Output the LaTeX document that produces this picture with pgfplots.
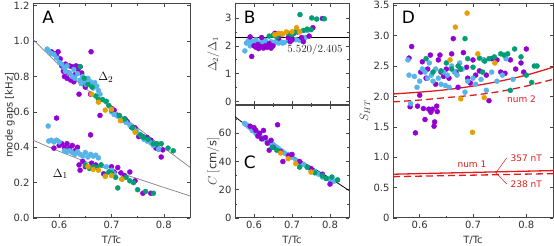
\documentclass[border=0pt]{standalone}
\usepackage{pgfplots}
\pgfplotsset{compat=1.18}
\usepackage{fontspec}
\setmainfont{DejaVu Sans}
\definecolor{cpur}{RGB}{148,0,211}
\definecolor{cblu}{RGB}{86,180,233}
\definecolor{cgrn}{RGB}{0,158,115}
\definecolor{corg}{RGB}{230,159,0}
\definecolor{cred}{RGB}{222,28,28}
\definecolor{axgray}{RGB}{70,70,70}
\definecolor{txgray}{RGB}{50,50,50}
\tikzset{letter/.style={font=\fontsize{17}{18}\selectfont, text=black}}
\pgfplotsset{
  base/.style={
    scale only axis,
    xmin=0.55, xmax=0.85,
    xtick={0.6,0.7,0.8},
    xticklabels={0.6,0.7,0.8},
    minor xtick={0.65,0.75},
    tick align=inside,
    major tick length=3.5pt,
    minor tick length=2pt,
    axis line style={axgray, line width=1pt},
    every tick/.style={axgray, line width=0.6pt},
    every minor tick/.style={axgray, line width=0.6pt},
    tick label style={font=\fontsize{10}{12}\selectfont, text=txgray},
    label style={font=\fontsize{10}{12}\selectfont, text=txgray},
    /pgf/number format/assume math mode=true,
  },
  mathlabel/.style={ylabel style={font=\fontsize{11.5}{13}\selectfont}},
  pts/.style={only marks, mark=*, mark size=2.5pt, color=#1, mark options={draw=none, fill=#1}},
}
\begin{document}
\begin{tikzpicture}
%%%%%%%%%%%%%%%%%%%%%%%% A
\begin{axis}[base, at={(33pt,28pt)}, anchor=south west, width=157pt, height=214pt,
  ymin=0, ymax=1.21, ytick={0,0.2,0.4,0.6,0.8,1.0,1.2},
  yticklabels={0.0,0.2,0.4,0.6,0.8,1.0,1.2},
  xlabel={T/Tc}, ylabel={mode gaps [kHz]},
  ylabel style={at={(axis description cs:-0.148,0.48)}, anchor=center}]
% gray model curves
\addplot[gray, line width=0.7pt, smooth] coordinates {(0.55,1.01)(0.60,0.865)(0.65,0.734)(0.70,0.62)(0.75,0.51)(0.80,0.397)(0.85,0.287)};
\addplot[gray, line width=0.7pt, smooth] coordinates {(0.55,0.44)(0.60,0.377)(0.65,0.32)(0.70,0.27)(0.75,0.222)(0.80,0.173)(0.85,0.125)};
% Delta2 purple
\addplot[pts=cpur] coordinates {
(0.585,0.94)(0.590,0.93)(0.595,0.915)(0.598,0.94)(0.602,0.90)(0.605,0.86)(0.608,0.83)(0.610,0.80)(0.612,0.87)(0.615,0.79)
(0.618,0.82)(0.620,0.86)(0.622,0.78)(0.625,0.855)(0.628,0.77)(0.630,0.81)(0.632,0.86)(0.635,0.855)(0.636,0.84)(0.638,0.70)
(0.640,0.855)(0.643,0.82)(0.647,0.76)(0.650,0.74)(0.661,0.94)(0.660,0.70)(0.678,0.58)(0.700,0.62)(0.705,0.61)(0.712,0.58)
(0.720,0.555)(0.726,0.56)(0.730,0.545)(0.738,0.515)(0.745,0.51)(0.752,0.46)(0.760,0.46)(0.768,0.455)(0.775,0.44)(0.785,0.395)
(0.790,0.39)(0.795,0.345)(0.798,0.385)};
% Delta1 purple
\addplot[pts=cpur] coordinates {
(0.590,0.395)(0.595,0.565)(0.600,0.41)(0.605,0.42)(0.610,0.40)(0.615,0.42)(0.620,0.395)(0.625,0.41)(0.630,0.38)(0.635,0.40)
(0.638,0.30)(0.640,0.27)(0.645,0.32)(0.650,0.29)(0.660,0.47)(0.662,0.31)(0.670,0.30)(0.685,0.25)(0.700,0.29)(0.705,0.26)
(0.712,0.285)(0.718,0.255)(0.725,0.24)(0.735,0.26)(0.745,0.21)(0.760,0.14)(0.775,0.14)};
% Delta2 blue
\addplot[pts=cblu] coordinates {
(0.577,0.955)(0.580,0.945)(0.585,0.93)(0.590,0.925)(0.595,0.905)(0.600,0.88)(0.605,0.87)(0.610,0.85)(0.612,0.83)(0.615,0.86)
(0.620,0.82)(0.625,0.80)(0.628,0.84)(0.630,0.79)(0.635,0.815)(0.640,0.78)(0.642,0.76)(0.645,0.80)(0.650,0.775)(0.652,0.755)
(0.655,0.79)(0.660,0.77)(0.662,0.745)(0.665,0.735)(0.668,0.765)(0.672,0.745)(0.675,0.72)(0.678,0.70)(0.700,0.60)(0.705,0.585)
(0.712,0.575)(0.718,0.56)(0.722,0.55)(0.728,0.54)(0.735,0.525)(0.742,0.505)(0.748,0.49)(0.755,0.47)(0.762,0.445)(0.768,0.435)
(0.775,0.425)(0.780,0.41)(0.790,0.39)};
% Delta1 blue
\addplot[pts=cblu] coordinates {
(0.579,0.52)(0.580,0.435)(0.585,0.44)(0.590,0.43)(0.595,0.44)(0.600,0.43)(0.610,0.38)(0.615,0.375)(0.620,0.38)(0.625,0.37)
(0.630,0.36)(0.635,0.375)(0.640,0.36)(0.645,0.35)(0.650,0.37)(0.655,0.345)(0.660,0.36)(0.665,0.35)(0.670,0.355)(0.675,0.34)
(0.680,0.30)(0.690,0.29)(0.700,0.27)(0.705,0.25)};
% green
\addplot[pts=cgrn] coordinates {
(0.640,0.855)(0.648,0.79)(0.655,0.755)(0.663,0.74)(0.670,0.69)(0.675,0.67)(0.683,0.67)(0.690,0.66)(0.695,0.635)(0.700,0.61)
(0.715,0.58)(0.725,0.56)(0.740,0.51)(0.755,0.47)(0.762,0.455)(0.770,0.445)(0.780,0.42)(0.787,0.42)(0.795,0.42)(0.808,0.395)(0.818,0.38)};
\addplot[pts=cgrn] coordinates {
(0.650,0.30)(0.658,0.28)(0.665,0.29)(0.672,0.285)(0.680,0.30)(0.688,0.24)(0.695,0.26)(0.700,0.255)(0.708,0.23)(0.712,0.17)
(0.720,0.22)(0.728,0.23)(0.735,0.21)(0.742,0.20)(0.750,0.16)(0.765,0.15)(0.780,0.14)};
% orange
\addplot[pts=corg] coordinates {(0.662,0.70)(0.675,0.655)(0.688,0.61)(0.700,0.615)(0.717,0.55)(0.745,0.485)};
\addplot[pts=corg] coordinates {(0.655,0.29)(0.665,0.275)(0.675,0.27)(0.688,0.235)(0.700,0.24)(0.720,0.22)};
\node[letter] at (rel axis cs:0.097,0.938) {A};
\node[font=\fontsize{12.5}{14}\selectfont] at (axis cs:0.689,0.796) {$\Delta_2$};
\node[font=\fontsize{12.5}{14}\selectfont] at (axis cs:0.602,0.249) {$\Delta_1$};
\end{axis}
%%%%%%%%%%%%%%%%%%%%%%%% B
\begin{axis}[base, mathlabel, at={(235pt,141pt)}, anchor=south west, width=114pt, height=101pt,
  ymin=-0.12, ymax=3.5, ytick={0,1,2,3}, yticklabels={0,1,2,3}, minor ytick={0.5,1.5,2.5},
  xticklabels={}, ylabel={$\Delta_2/\Delta_1$},
  ylabel style={at={(axis description cs:-0.19,0.5)}, anchor=center}]
\addplot[pts=cblu] coordinates {
(0.576,1.82)(0.580,2.10)(0.585,2.18)(0.590,2.00)(0.595,2.15)(0.600,2.05)(0.605,2.22)(0.610,2.10)(0.615,2.05)(0.620,2.15)
(0.625,2.08)(0.630,2.20)(0.635,2.10)(0.640,2.05)(0.645,2.15)(0.650,2.08)(0.655,2.12)(0.660,2.18)(0.665,2.10)(0.670,2.15)
(0.675,2.10)(0.680,2.12)(0.690,2.20)(0.700,2.20)(0.710,2.22)(0.720,2.20)(0.735,2.30)(0.740,2.55)};
\addplot[pts=cpur] coordinates {
(0.590,2.32)(0.594,1.62)(0.600,2.00)(0.605,1.95)(0.610,2.05)(0.612,1.90)(0.618,1.98)(0.620,2.30)(0.625,1.92)(0.630,2.00)
(0.635,1.95)(0.640,2.08)(0.645,1.92)(0.650,2.00)(0.655,2.45)(0.665,2.28)(0.690,2.30)(0.695,2.15)(0.700,2.22)(0.705,2.45)
(0.715,2.50)(0.725,2.30)(0.730,2.15)(0.745,2.35)(0.755,2.65)(0.780,2.98)};
\addplot[pts=cgrn] coordinates {
(0.640,2.35)(0.650,2.38)(0.660,2.32)(0.672,2.42)(0.690,2.45)(0.700,2.40)(0.708,2.50)(0.721,3.12)(0.730,2.55)(0.740,2.60)
(0.750,2.58)(0.752,3.00)(0.765,2.96)(0.785,2.97)};
\addplot[pts=corg] coordinates {(0.655,2.40)(0.665,2.45)(0.675,2.42)(0.685,2.50)(0.700,2.50)(0.712,2.65)(0.720,2.50)};
\addplot[black, line width=0.8pt] coordinates {(0.55,2.2952)(0.85,2.2952)};
\node[anchor=east, font=\fontsize{10.5}{12}\selectfont, text=txgray] at (rel axis cs:0.975,0.545) {$5.520/2.405$};
\node[letter] at (rel axis cs:0.13,0.87) {B};
\end{axis}
%%%%%%%%%%%%%%%%%%%%%%%% C
\begin{axis}[base, mathlabel, at={(235pt,28pt)}, anchor=south west, width=114pt, height=113pt,
  ymin=0, ymax=80, ytick={0,20,40,60}, yticklabels={0,20,40,60}, minor ytick={10,30,50,70},
  xlabel={T/Tc}, ylabel={$C\ [\mathrm{cm/s}]$},
  ylabel style={at={(axis description cs:-0.19,0.5)}, anchor=center}]
\addplot[pts=cblu] coordinates {
(0.575,67)(0.580,66)(0.585,65)(0.590,64)(0.595,62)(0.600,61.5)(0.605,60)(0.610,60)(0.615,58)(0.620,57)
(0.625,56)(0.630,56)(0.635,54)(0.640,53)(0.645,53)(0.650,52)(0.655,51)(0.660,50)(0.665,49)(0.670,48)
(0.675,47)(0.680,46)(0.690,45)(0.700,43)(0.710,41)(0.720,39)(0.730,38)(0.740,36)(0.750,34)(0.760,33)
(0.770,31)(0.780,29)(0.790,28)(0.800,27)(0.810,26)};
\addplot[pts=cpur] coordinates {
(0.590,65)(0.600,64)(0.605,62)(0.610,58)(0.615,60)(0.620,56)(0.625,62)(0.630,57)(0.635,53)(0.640,48)
(0.645,55)(0.650,50)(0.662,66)(0.670,47)(0.676,40)(0.690,44)(0.700,45)(0.720,40)(0.750,35)(0.780,31)(0.800,24)};
\addplot[pts=cgrn] coordinates {(0.648,50)(0.660,48)(0.720,36)(0.740,36)(0.760,32)(0.780,30)(0.790,28)(0.805,29)(0.820,27)};
\addplot[pts=corg] coordinates {(0.670,46)(0.690,42)(0.710,38.5)(0.750,32.5)};
\addplot[black, line width=0.8pt, smooth] coordinates {(0.55,71.7)(0.60,61.5)(0.65,52.2)(0.70,44)(0.75,36.2)(0.80,28.2)(0.85,19.5)};
\node[letter] at (rel axis cs:0.13,0.49) {C};
\end{axis}
%%%%%%%%%%%%%%%%%%%%%%%% D
\begin{axis}[base, mathlabel, at={(393pt,28pt)}, anchor=south west, width=160pt, height=214pt,
  ymin=0, ymax=3.52, ytick={0,0.5,1,1.5,2,2.5,3,3.5},
  yticklabels={0,0.5,1.0,1.5,2.0,2.5,3.0,3.5},
  xlabel={T/Tc}, ylabel={$S_{HT}$},
  ylabel style={at={(axis description cs:-0.175,0.5)}, anchor=center}]
\addplot[pts=cpur] coordinates {
(0.585,2.82)(0.580,2.63)(0.582,1.83)(0.592,1.40)(0.596,1.84)(0.600,2.02)(0.602,2.40)(0.605,2.57)(0.607,1.80)(0.610,1.62)
(0.612,2.30)(0.615,2.45)(0.617,1.79)(0.620,2.68)(0.621,1.74)(0.624,1.79)(0.627,1.51)(0.628,1.58)(0.630,2.20)(0.632,1.84)
(0.633,1.75)(0.635,2.60)(0.638,2.68)(0.640,2.40)(0.645,2.33)(0.650,2.45)(0.655,2.30)(0.660,2.70)(0.663,2.95)(0.668,2.40)
(0.672,2.15)(0.678,2.45)(0.682,2.72)(0.688,2.48)(0.690,2.30)(0.695,2.22)(0.700,2.60)(0.705,2.35)(0.712,2.42)(0.720,2.60)
(0.725,2.35)(0.730,1.93)(0.735,2.62)(0.745,2.60)(0.752,2.40)(0.760,2.38)(0.770,2.60)(0.780,2.45)(0.790,2.55)(0.795,2.40)(0.800,2.78)};
\addplot[pts=cblu] coordinates {
(0.578,2.60)(0.580,2.35)(0.583,1.88)(0.590,2.33)(0.595,2.15)(0.600,2.25)(0.605,2.45)(0.610,2.40)(0.615,2.30)(0.618,2.55)
(0.622,2.35)(0.625,2.25)(0.630,2.45)(0.635,2.30)(0.640,2.20)(0.645,2.40)(0.648,2.18)(0.652,2.35)(0.655,2.15)(0.660,2.50)
(0.665,2.40)(0.670,2.35)(0.675,2.55)(0.680,2.45)(0.685,2.07)(0.690,2.25)(0.700,2.30)(0.705,2.20)(0.715,2.28)(0.720,2.60)
(0.725,2.10)(0.735,2.40)(0.745,2.25)(0.755,2.35)(0.762,2.62)(0.775,2.28)};
\addplot[pts=cgrn] coordinates {
(0.612,2.62)(0.625,2.40)(0.640,2.42)(0.650,2.55)(0.660,2.45)(0.672,2.50)(0.676,2.45)(0.685,2.95)(0.690,2.62)(0.700,2.48)
(0.712,2.63)(0.718,2.40)(0.722,2.58)(0.730,2.62)(0.740,2.65)(0.752,2.70)(0.758,2.68)(0.765,2.70)(0.770,2.10)(0.778,2.78)
(0.790,2.65)(0.800,2.35)(0.810,2.23)(0.815,2.50)(0.820,2.50)};
\addplot[pts=corg] coordinates {(0.689,3.37)(0.667,3.14)(0.657,2.60)(0.709,2.70)(0.741,2.55)(0.677,1.96)(0.721,1.98)(0.699,1.41)};
\addplot[cred, line width=1.3pt, smooth] coordinates {(0.55,2.04)(0.60,2.07)(0.65,2.11)(0.70,2.17)(0.75,2.25)(0.80,2.35)(0.85,2.48)};
\addplot[cred, line width=1.3pt, smooth, dash pattern=on 7pt off 4pt] coordinates {(0.55,1.91)(0.60,1.94)(0.65,1.98)(0.70,2.02)(0.75,2.08)(0.80,2.17)(0.85,2.28)};
\addplot[cred, line width=1.3pt] coordinates {(0.55,0.72)(0.85,0.78)};
\addplot[cred, line width=1.3pt, dash pattern=on 7pt off 4pt] coordinates {(0.55,0.68)(0.85,0.73)};
\draw[cred, line width=0.5pt] (axis cs:0.763,0.985) -- (axis cs:0.743,0.745) -- (axis cs:0.763,0.56);
\node[cred, font=\fontsize{9}{10}\selectfont, anchor=west] at (axis cs:0.764,0.985) {357 nT};
\node[cred, font=\fontsize{9}{10}\selectfont, anchor=west] at (axis cs:0.764,0.56) {238 nT};
\node[cred, font=\fontsize{9}{10}\selectfont] at (axis cs:0.698,0.887) {num 1};
\node[cred, font=\fontsize{9}{10}\selectfont] at (axis cs:0.791,1.95) {num 2};
\node[letter] at (rel axis cs:0.096,0.94) {D};
\end{axis}
\pgfresetboundingbox
\useasboundingbox (0,0) rectangle (554pt,246pt);
\end{tikzpicture}
\end{document}
